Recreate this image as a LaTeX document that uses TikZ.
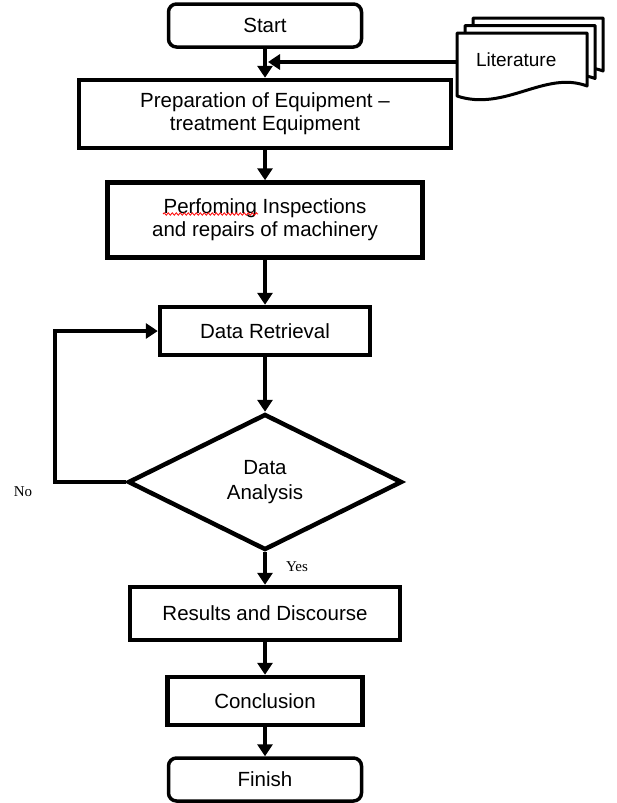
\documentclass[tikz,border=0pt]{standalone}
\usepackage{fontspec}
\setmainfont{Liberation Sans}
\newfontfamily\ynfont{Liberation Serif}
\usetikzlibrary{arrows.meta,shapes.geometric,decorations.pathmorphing}

\begin{document}
\begin{tikzpicture}
 [x=1pt,y=-1pt,
 block/.style={draw, line width=4.5pt, align=center, inner sep=2pt,
  font=\fontsize{20.5}{23}\selectfont},
 term/.style={draw, line width=3.5pt, rounded corners=8pt, inner sep=2pt,
  minimum width=193pt, minimum height=43pt, font=\fontsize{20.5}{23}\selectfont},
 decision/.style={diamond, draw, line width=4.5pt, aspect=2, inner sep=0pt,
  align=center, font=\fontsize{20.5}{25}\selectfont},
 sheet/.style={draw, line width=3pt, fill=white, line join=round},
 answer/.style={font=\ynfont\fontsize{15}{17}\selectfont},
 line/.style={line width=4.5pt, -{Triangle[length=12pt,width=15pt]}}]
 \useasboundingbox (0,0) rectangle (616,803);
 \node (start) at (265,25.5) [term] {Start};
 \node (prep)  at (265,114) [block, minimum width=372pt, minimum height=68pt]
  {Preparation of Equipment –\\ treatment Equipment};
 \node (perf)  at (265,220) [block, minimum width=315pt, minimum height=75pt]
  {Perfoming Inspections\\ and repairs of machinery};
 \node (retr)  at (265,331) [block, minimum width=210pt, minimum height=48pt] {Data Retrieval};
 \node (ana)   at (265,482) [decision, minimum width=274pt, minimum height=136pt] {Data\\ Analysis};
 \node (res)   at (265,613.5) [block, minimum width=270pt, minimum height=53pt] {Results and Discourse};
 \node (concl) at (265,701) [block, minimum width=195pt, minimum height=48pt] {Conclusion};
 \node (finish) at (265,779.5) [term] {Finish};
 \foreach \dx/\dy in {16/-15, 8/-7.5, 0/0}
  \draw[sheet, shift={(\dx,\dy)}] (457,33) -- (587,33) -- (587,86)
   .. controls (545,70) and (505,112) .. (457,96) -- cycle;
 \node (lit) at (457,62) [anchor=west, minimum width=118pt, inner sep=0pt,
  font=\fontsize{19}{22}\selectfont] {\raisebox{5pt}{Literature}};
 \coordinate (join) at (268,62);
 \coordinate (bend) at (55,331);
 \draw[line] (start) -- (prep);
 \draw[line] (lit.west) -- (join);
 \draw[line] (prep) -- (perf);
 \draw[line] (perf) -- (retr);
 \draw[line] (retr) -- (ana);
 \draw[line] (ana.west) -| (bend) -- (retr.west);
 \draw[line] (ana) -- (res);
 \draw[line] (res) -- (concl);
 \draw[line] (concl) -- (finish);
 \draw[red, line width=0.8pt, decorate, decoration={snake, amplitude=1.2pt, segment length=4pt}]
  (163,214) -- (258,214);
 \node (no)  at (23,492) [answer] {No};
 \node (yes) at (297,567) [answer] {Yes};
\end{tikzpicture}
\end{document}
